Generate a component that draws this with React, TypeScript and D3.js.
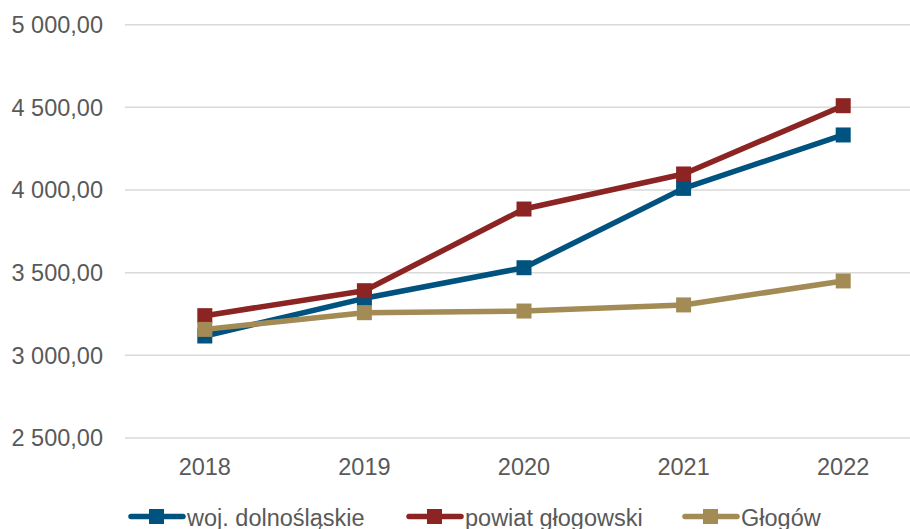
import React from "react";
import * as d3 from "d3";

const years = ["2018", "2019", "2020", "2021", "2022"];
const wojDolnoslaskie = [3117, 3345, 3530, 4010, 4333];
const powiatGlogowski = [3240, 3391, 3885, 4097, 4510];
const glogow = [3157, 3258, 3268, 3305, 3450];
const seriesNames = ["woj. dolnośląskie", "powiat głogowski", "Głogów"];
const seriesColors = ["#00527F", "#8B2422", "#A38B55"];
const yTicks = [2500, 3000, 3500, 4000, 4500, 5000];

const W = 910;
const H = 529;
const FONT = "'Liberation Sans', Arial, sans-serif";
const TEXT = "#595959";

export default function App() {
  const x = d3.scaleBand<string>().domain(years).range([125, 923]).padding(0);
  const y = d3.scaleLinear().domain([2500, 5000]).range([438, 24.7]);
  const fmt = (v: number) => {
    const s = d3.format(",.2f")(v);
    return s.replace(/,/g, " ").replace(".", ",");
  };
  const series = [wojDolnoslaskie, powiatGlogowski, glogow];
  const line = d3
    .line<number>()
    .x((_, i) => (x(years[i]) as number) + x.bandwidth() / 2)
    .y((d) => y(d));
  const legendX = [129, 407, 683];
  const ms = 15;

  return (
    <svg
      width={W}
      height={H}
      style={{ position: "absolute", left: 0, top: 0, background: "#fff" }}
      fontFamily={FONT}
    >
      {yTicks.map((t) => (
        <g key={t}>
          <line x1={125} x2={W} y1={y(t)} y2={y(t)} stroke="#D9D9D9" strokeWidth={1.5} />
          <text x={103} y={y(t)} dy="0.35em" textAnchor="end" fontSize={23.5} fill={TEXT}>
            {fmt(t)}
          </text>
        </g>
      ))}
      {years.map((yr) => (
        <text
          key={yr}
          x={(x(yr) as number) + x.bandwidth() / 2}
          y={474.5}
          textAnchor="middle"
          fontSize={23.5}
          fill={TEXT}
        >
          {yr}
        </text>
      ))}
      {series.map((s, si) => (
        <g key={si}>
          <path d={line(s) || ""} fill="none" stroke={seriesColors[si]} strokeWidth={5.5} strokeLinejoin="round" />
          {s.map((v, i) => (
            <rect
              key={i}
              x={(x(years[i]) as number) + x.bandwidth() / 2 - ms / 2}
              y={y(v) - ms / 2}
              width={ms}
              height={ms}
              fill={seriesColors[si]}
            />
          ))}
        </g>
      ))}
      {seriesNames.map((n, i) => (
        <g key={n} transform={`translate(${legendX[i]},516.5)`}>
          <line x1={2} x2={54} y1={0} y2={0} stroke={seriesColors[i]} strokeWidth={5.5} strokeLinecap="round" />
          <rect x={20} y={-7.5} width={15} height={15} fill={seriesColors[i]} />
          <text x={58} y={9} fontSize={23.5} fill={TEXT}>
            {n}
          </text>
        </g>
      ))}
    </svg>
  );
}
